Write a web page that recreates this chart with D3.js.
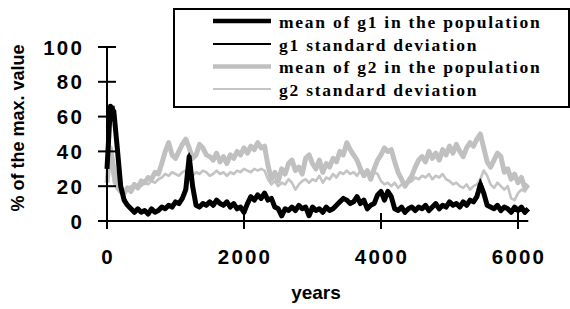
<!DOCTYPE html>
<html><head><meta charset="utf-8">
<script src="https://cdn.jsdelivr.net/npm/d3@7"></script>
<style>html,body{margin:0;padding:0;background:#fff;}svg{display:block;}</style>
</head><body>
<svg id="c" width="570" height="309"></svg>
<script>
const yearStep = 50;
const meanG1 = [30,66,63,42,20,12,9,7,5,7, 5,6,4,7,5,6,8,7,9,8, 11,10,13,18,37,20,9,8,10,9, 11,9,12,10,9,11,8,10,7,8,
 5,10,14,12,15,13,16,12,13,8, 7,3,7,6,8,6,9,7,8,3, 8,6,7,5,8,6,7,9,11,13, 12,10,11,14,10,12,7,9,10,15,
 17,12,17,14,7,6,8,5,7,8, 6,8,7,9,6,8,10,7,9,8, 11,9,10,8,11,9,12,11,14,21, 16,9,8,7,9,6,8,7,5,8, 6,8,5,7];
const stdG1 = [28,60,66,48,24,14,10,8,6,6, 6,5,5,6,6,7,7,8,8,9, 10,11,12,22,39,24,10,9,9,10, 10,10,11,11,10,10,9,9,8,7,
 7,9,13,13,14,14,15,13,12,9, 7,5,6,7,7,7,8,8,7,5, 7,7,6,6,7,7,8,9,10,12, 12,11,12,13,11,11,8,9,11,14,
 16,14,16,13,8,7,7,6,7,7, 7,7,8,8,7,8,9,8,8,9, 10,10,9,9,10,10,11,12,15,24, 18,10,8,8,8,7,7,7,6,7, 7,7,6,6];
const meanG2 = [22,42,30,22,17,16,19,17,21,19, 23,22,25,24,28,27,33,40,45,38, 36,40,44,47,42,36,38,44,42,38, 37,35,39,34,37,33,38,36,40,38,
 42,39,43,41,45,42,43,32,24,28, 23,30,27,33,35,29,31,27,36,38, 33,30,35,28,33,31,36,34,40,38, 45,41,38,35,30,26,29,24,30,35,
 38,42,40,41,34,28,24,20,23,26, 31,35,37,34,40,36,39,35,41,38, 43,39,44,40,37,42,45,43,47,50, 42,34,31,35,39,37,28,30,24,27, 22,25,19,21];
const stdG2 = [55,35,22,18,16,15,18,20,19,21, 20,22,21,23,22,24,25,27,26,28, 27,26,28,29,27,26,28,27,29,28, 26,27,29,27,28,26,28,27,29,28,
 30,29,28,30,29,30,29,24,21,23, 20,22,21,24,22,18,21,23,24,22, 24,23,26,22,25,24,27,25,28,27, 29,27,28,26,29,27,28,26,28,27,
 23,21,22,20,22,19,21,20,22,23, 25,24,26,25,27,24,26,25,27,24, 23,21,22,20,19,21,18,20,21,24, 29,26,21,19,22,20,18,20,13,12, 16,18,17,20];
const xTicks = [0,2000,4000,6000];
const yTicks = [0,20,40,60,80,100];
const seriesNames = ["mean of g1 in the population","g1 standard deviation","mean of g2 in the population","g2 standard deviation"];
const xTitle = "years";
const yTitle = "% of the max. value";

const svg = d3.select("#c");
const x = d3.scaleLinear().domain([0,2000]).range([107,244]);
const y = d3.scaleLinear().domain([0,100]).range([221,47]);
const xEnd = x(6150);

const styles = [
  {data: stdG2, color:"#c4c4c4", w:2.6},
  {data: meanG2, color:"#c0c0c0", w:5},
  {data: stdG1, color:"#000", w:1.5},
  {data: meanG1, color:"#000", w:5}
];
const line = d3.line().x((d,i)=>x(i*yearStep)).y(d=>y(d));
styles.forEach(s=>{
  svg.append("path").attr("d", line(s.data)).attr("fill","none")
    .attr("stroke", s.color).attr("stroke-width", s.w).attr("stroke-linejoin","round");
});

// axes
svg.append("line").attr("x1",107).attr("x2",107).attr("y1",y(100)).attr("y2",y(0)).attr("stroke","#000").attr("stroke-width",2);
yTicks.forEach(t=>{
  svg.append("line").attr("x1",98).attr("x2",116).attr("y1",y(t)).attr("y2",y(t)).attr("stroke","#000").attr("stroke-width",2);
  svg.append("text").attr("x",84).attr("y",y(t)+7.5).attr("text-anchor","end")
    .attr("font-family","Liberation Sans, Arial, sans-serif").attr("font-weight","bold").attr("font-size",20.5)
    .attr("letter-spacing","2.2px").text(t);
});
svg.append("line").attr("x1",107).attr("x2",xEnd).attr("y1",y(0)).attr("y2",y(0)).attr("stroke","#000").attr("stroke-width",2);
xTicks.forEach(t=>{
  svg.append("line").attr("x1",x(t)).attr("x2",x(t)).attr("y1",y(0)-8).attr("y2",y(0)+8).attr("stroke","#000").attr("stroke-width",2);
  svg.append("text").attr("x",x(t)+1).attr("y",263.5).attr("text-anchor","middle")
    .attr("font-family","Liberation Sans, Arial, sans-serif").attr("font-weight","bold").attr("font-size",20.5)
    .attr("letter-spacing","2.2px").text(t);
});
svg.append("text").attr("x",316).attr("y",299).attr("text-anchor","middle")
  .attr("font-family","Liberation Sans, Arial, sans-serif").attr("font-weight","bold").attr("font-size",19)
  .text(xTitle);
svg.append("text").attr("transform","translate(24,128) rotate(-90)").attr("text-anchor","middle")
  .attr("font-family","Liberation Sans, Arial, sans-serif").attr("font-weight","bold").attr("font-size",18)
  .text(yTitle);

// legend
svg.append("rect").attr("x",174).attr("y",9).attr("width",395).attr("height",98)
  .attr("fill","#fff").attr("stroke","#000").attr("stroke-width",2);
const legStyles = [{c:"#000",w:4.5},{c:"#000",w:2},{c:"#c0c0c0",w:4.5},{c:"#c4c4c4",w:2}];
const rowY = [21,44,66.5,89];
seriesNames.forEach((n,i)=>{
  svg.append("line").attr("x1",213).attr("x2",271).attr("y1",rowY[i]).attr("y2",rowY[i])
    .attr("stroke",legStyles[i].c).attr("stroke-width",legStyles[i].w);
  svg.append("text").attr("x",279).attr("y",rowY[i]+6.5)
    .attr("font-family","Liberation Serif, Times New Roman, serif").attr("font-weight","bold").attr("font-size",17.5)
    .attr("letter-spacing","1.75px").text(n);
});
</script>
</body></html>
